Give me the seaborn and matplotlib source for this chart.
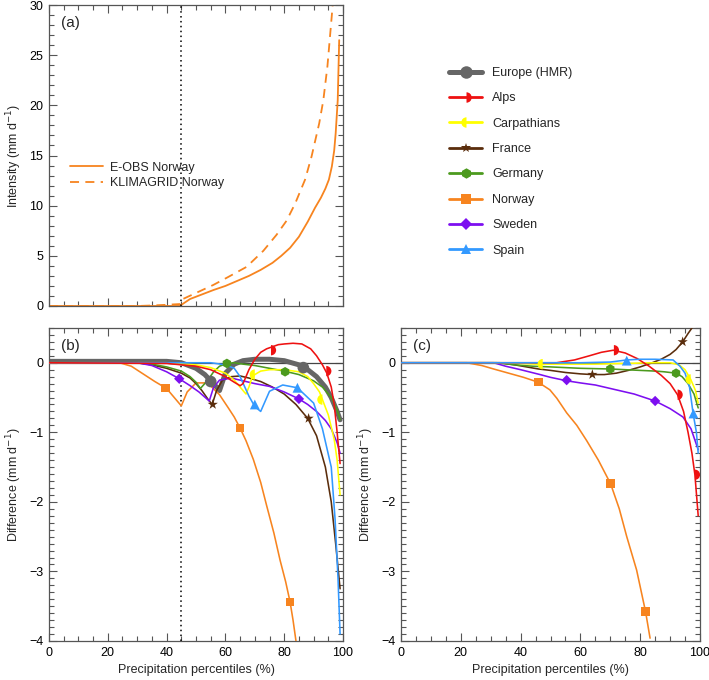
import numpy as np
import pandas as pd
import matplotlib
matplotlib.use("Agg")
import matplotlib.pyplot as plt
import seaborn as sns
from matplotlib.lines import Line2D
from matplotlib.markers import MarkerStyle
from matplotlib.ticker import MultipleLocator

# ---------------- data ----------------
# Panel (a): Norway intensity by percentile
a_eobs_x = [0, 44.8, 45.2, 48, 52, 56, 60, 64, 68, 72, 76, 79, 82, 85, 88, 90.5, 92.5, 94, 95.2, 96.2, 97, 97.5, 98.2, 98.7]
a_eobs_y = [0, 0, 0.15, 0.7, 1.15, 1.6, 2.0, 2.5, 3.0, 3.6, 4.3, 5.0, 5.8, 6.9, 8.4, 9.8, 10.8, 11.7, 12.6, 13.9, 15.5, 17.2, 20.5, 26.5]
a_klim_x = [0, 30, 35, 40, 44.8, 45.2, 50, 55.9, 61, 67.2, 72.9, 77.4, 80.8, 83.7, 87.1, 89.3, 91.9, 93.3, 94.7, 96.2, 96.6]
a_klim_y = [0, 0, 0.05, 0.12, 0.2, 0.65, 1.3, 2.1, 2.9, 3.9, 5.5, 7.1, 8.5, 10.2, 12.6, 14.9, 18.2, 20.5, 23.9, 29.0, 30.5]

regions = ["Europe (HMR)", "Alps", "Carpathians", "France", "Germany", "Norway", "Sweden", "Spain"]
colors = ["#666666", "#ee1111", "#ffff00", "#5a2d0c", "#4c9a1e", "#f7841f", "#7d0ff0", "#3399ff"]

# Panel (b)
b_x = {
    "Europe (HMR)": [0, 30, 40, 45, 50, 53, 55, 57, 58, 60, 63, 66, 70, 75, 80, 85, 88, 91, 94, 96, 98, 99],
    "Alps": [0, 40, 50, 55, 60, 63, 65, 66, 68, 70, 72, 74, 76, 78, 80, 83, 86, 89, 91, 93, 94.5, 96, 97, 98, 99],
    "Carpathians": [0, 40, 50, 55, 60, 63, 65, 67, 68, 69, 70, 72, 75, 80, 85, 88, 90, 92, 93, 95, 97, 98, 99],
    "France": [0, 30, 35, 40, 45, 48, 50, 52, 54, 55.5, 57, 59, 62, 65, 68, 72, 76, 80, 84, 88, 91, 94, 96, 97.5, 99],
    "Germany": [0, 30, 35, 40, 45, 48, 50, 51.5, 54, 56, 58, 60.5, 63, 66, 70, 75, 80, 85, 90, 93, 96, 98, 99],
    "Norway": [0, 20, 24, 28, 32, 36, 40, 43, 45, 47, 50, 54, 58, 61, 63, 65, 67, 69.5, 72, 74, 76.5, 78.6, 80.5, 82, 83, 84],
    "Sweden": [0, 30, 35, 40, 44.3, 48, 51, 54.5, 56, 58, 62, 65, 70, 75, 80, 85, 88, 91, 94, 96, 98, 99],
    "Spain": [0, 55, 60, 63, 65, 68, 70, 72, 75, 79.5, 84.5, 90, 93, 96, 97.3, 98.3, 99],
}
b_y = {
    "Europe (HMR)": [0.02, 0.02, 0.02, 0.0, -0.08, -0.17, -0.26, -0.35, -0.4, -0.15, -0.02, 0.03, 0.05, 0.05, 0.03, -0.03, -0.1, -0.2, -0.35, -0.5, -0.7, -0.82],
    "Alps": [0, -0.01, -0.05, -0.1, -0.2, -0.28, -0.33, -0.3, -0.1, 0.05, 0.15, 0.2, 0.23, 0.26, 0.27, 0.28, 0.27, 0.2, 0.1, -0.03, -0.15, -0.35, -0.6, -1.0, -1.45],
    "Carpathians": [0, 0, -0.03, -0.07, -0.15, -0.25, -0.35, -0.45, -0.35, -0.22, -0.17, -0.12, -0.1, -0.1, -0.13, -0.2, -0.3, -0.42, -0.53, -0.75, -1.1, -1.4, -1.9],
    "France": [0, 0, -0.03, -0.08, -0.15, -0.22, -0.3, -0.4, -0.52, -0.6, -0.4, -0.25, -0.2, -0.19, -0.22, -0.27, -0.35, -0.45, -0.6, -0.8, -1.05, -1.5, -2.0, -2.6, -3.25],
    "Germany": [0, 0, -0.02, -0.06, -0.12, -0.2, -0.28, -0.37, -0.25, -0.13, -0.05, -0.01, 0.0, -0.02, -0.04, -0.08, -0.12, -0.17, -0.26, -0.35, -0.5, -0.68, -0.82],
    "Norway": [0, 0, 0, -0.05, -0.16, -0.27, -0.37, -0.52, -0.62, -0.42, -0.29, -0.29, -0.46, -0.65, -0.78, -0.94, -1.12, -1.39, -1.72, -2.05, -2.45, -2.84, -3.15, -3.44, -3.7, -4.0],
    "Sweden": [0, 0, -0.04, -0.13, -0.23, -0.33, -0.42, -0.55, -0.35, -0.25, -0.22, -0.25, -0.3, -0.34, -0.42, -0.52, -0.6, -0.7, -0.83, -0.95, -1.15, -1.3],
    "Spain": [0, 0, -0.03, -0.08, -0.2, -0.48, -0.63, -0.7, -0.41, -0.32, -0.36, -0.58, -0.95, -1.5, -2.25, -3.1, -3.9],
}
b_mx = {
    "Europe (HMR)": [55, 86.5], "Alps": [75.5, 94.3], "Carpathians": [70, 93],
    "France": [55.7, 88.3], "Germany": [60.5, 80.3], "Norway": [39.7, 65, 82],
    "Sweden": [44.3, 85], "Spain": [70, 84.5],
}
b_my = {
    "Europe (HMR)": [-0.27, -0.07], "Alps": [0.18, -0.12], "Carpathians": [-0.17, -0.53],
    "France": [-0.6, -0.8], "Germany": [-0.01, -0.13], "Norway": [-0.36, -0.94, -3.44],
    "Sweden": [-0.23, -0.52], "Spain": [-0.6, -0.36],
}

# Panel (c)
c_x = {
    "Alps": [0, 52, 58, 63, 67, 71, 75, 79, 83, 87, 90, 92.5, 94.5, 96, 97.3, 98.3, 99.4],
    "Carpathians": [0, 35, 45, 47.4, 55, 65, 75, 85, 90, 93, 95, 96.9, 98.5, 99.4],
    "France": [0, 33, 38, 42, 46, 50, 55, 60, 64, 68, 72, 76, 80, 84, 87, 90, 92, 94.2, 96, 97.8],
    "Germany": [0, 32, 38, 44, 50, 55, 60, 65, 70.3, 75, 80, 85, 88, 92, 94, 96, 98, 99.4],
    "Norway": [0, 22, 27, 31, 36, 41, 45.9, 49.8, 52.1, 55.4, 58.8, 62.1, 66, 70.1, 73, 75.5, 78.8, 81.8, 83.3],
    "Sweden": [0, 31, 35, 40, 46.5, 50, 55.5, 60, 65, 72, 78, 85, 90, 94.3, 97, 99.4],
    "Spain": [0, 60, 70, 75.5, 80, 85, 91, 93.3, 95, 96.5, 97.7, 98.8, 99.4],
}
c_y = {
    "Alps": [0, 0, 0.04, 0.1, 0.15, 0.18, 0.14, 0.06, -0.05, -0.18, -0.3, -0.46, -0.7, -1.0, -1.3, -1.61, -2.2],
    "Carpathians": [0, 0, -0.02, -0.02, -0.02, -0.02, -0.01, 0.0, 0.0, -0.03, -0.1, -0.24, -0.4, -0.58],
    "France": [0, 0, -0.03, -0.06, -0.09, -0.11, -0.14, -0.16, -0.17, -0.17, -0.15, -0.11, -0.06, 0.0, 0.05, 0.12, 0.19, 0.3, 0.42, 0.53],
    "Germany": [0, 0, -0.03, -0.05, -0.06, -0.07, -0.08, -0.085, -0.09, -0.1, -0.11, -0.12, -0.13, -0.15, -0.2, -0.3, -0.45, -0.65],
    "Norway": [0, 0, -0.04, -0.09, -0.15, -0.21, -0.28, -0.39, -0.51, -0.72, -0.9, -1.12, -1.4, -1.74, -2.1, -2.5, -2.98, -3.58, -3.96],
    "Sweden": [0, 0, -0.05, -0.1, -0.17, -0.21, -0.26, -0.29, -0.32, -0.39, -0.45, -0.55, -0.66, -0.78, -0.95, -1.25],
    "Spain": [0, 0, 0.01, 0.04, 0.05, 0.05, 0.04, -0.05, -0.15, -0.35, -0.73, -1.0, -1.3],
}
c_mx = {
    "Alps": [71.2, 92.5, 98.3], "Carpathians": [47.4, 96.9], "France": [64, 94.2],
    "Germany": [70, 92], "Norway": [45.9, 70.1, 81.8], "Sweden": [55.4, 85], "Spain": [75.5, 97.8],
}
c_my = {
    "Alps": [0.18, -0.46, -1.61], "Carpathians": [-0.02, -0.24], "France": [-0.17, 0.3],
    "Germany": [-0.09, -0.15], "Norway": [-0.28, -1.74, -3.58], "Sweden": [-0.25, -0.55], "Spain": [0.03, -0.73],
}

dry_threshold = 45

# ---------------- style ----------------
sns.set_style("ticks")
plt.rcParams["font.family"] = ["Liberation Sans", "DejaVu Sans"]
plt.rcParams["axes.edgecolor"] = "#555555"
plt.rcParams["xtick.color"] = "#555555"
plt.rcParams["ytick.color"] = "#555555"
plt.rcParams["xtick.labelcolor"] = "black"
plt.rcParams["ytick.labelcolor"] = "black"

marker_map = {
    "Europe (HMR)": MarkerStyle("o"),
    "Alps": MarkerStyle("o", fillstyle="right"),
    "Carpathians": MarkerStyle("o", fillstyle="left"),
    "France": MarkerStyle("*"),
    "Germany": MarkerStyle("h"),
    "Norway": MarkerStyle("s"),
    "Sweden": MarkerStyle("D"),
    "Spain": MarkerStyle("^"),
}
marker_size = {"Europe (HMR)": 70, "Alps": 55, "Carpathians": 55, "France": 60,
               "Germany": 48, "Norway": 38, "Sweden": 28, "Spain": 50}
col = dict(zip(regions, colors))

fig = plt.figure(figsize=(7.09, 6.8), dpi=100)
ax_a = fig.add_axes([0.0691, 0.550, 0.4147, 0.4426])
ax_b = fig.add_axes([0.0691, 0.0574, 0.4147, 0.4603])
ax_c = fig.add_axes([0.5656, 0.0574, 0.4217, 0.4603])

FS = 9

def style_axis(ax, ymaj, ymin):
    ax.set_xlim(0, 100)
    ax.xaxis.set_major_locator(MultipleLocator(20))
    ax.xaxis.set_minor_locator(MultipleLocator(5))
    ax.yaxis.set_major_locator(MultipleLocator(ymaj))
    ax.yaxis.set_minor_locator(MultipleLocator(ymin))
    ax.tick_params(which="both", direction="in", top=True, right=True, labelsize=FS)
    ax.tick_params(which="major", length=6, width=0.8, pad=4)
    ax.tick_params(which="minor", length=3.5, width=0.8)
    for s in ax.spines.values():
        s.set_linewidth(0.9)

# ---- panel (a)
orange = col["Norway"]
sns.lineplot(x=a_eobs_x, y=a_eobs_y, ax=ax_a, color=orange, lw=1.3, sort=False,
             label="E-OBS Norway")
sns.lineplot(x=a_klim_x, y=a_klim_y, ax=ax_a, color=orange, lw=1.3, sort=False,
             label="KLIMAGRID Norway")
ax_a.lines[-1].set_dashes([5, 3.5])
ax_a.axvline(dry_threshold, color="black", ls=(0, (1, 2.2)), lw=1.1)
ax_a.set_ylim(0, 30)
style_axis(ax_a, 5, 1)
ax_a.set_xticklabels([])
ax_a.set_xlabel("")
ax_a.set_ylabel("Intensity (mm d$^{-1}$)", fontsize=FS)
h, l = ax_a.get_legend_handles_labels()
h[1].set_dashes([5, 3.5])
ax_a.legend(h, l, loc="upper left", bbox_to_anchor=(0.07, 0.48), frameon=False,
            fontsize=FS, handlelength=2.7, handletextpad=0.5, labelspacing=0.3,
            borderpad=0, borderaxespad=0)
ax_a.text(0.04, 0.965, "(a)", transform=ax_a.transAxes, fontsize=11, va="top", ha="left")

# ---- panels (b) and (c)
def draw_panel(ax, xs, ys, mxs, mys, order, label):
    ax.axhline(0, color="#444444", lw=0.9, zorder=1)
    for r in order:
        lw = 3.6 if r == "Europe (HMR)" else 1.15
        df = pd.DataFrame({"x": xs[r], "y": ys[r]})
        sns.lineplot(data=df, x="x", y="y", ax=ax, color=col[r], lw=lw, sort=False,
                     zorder=3 if r != "Europe (HMR)" else 2.5)
        mdf = pd.DataFrame({"x": mxs[r], "y": mys[r]})
        sns.scatterplot(data=mdf, x="x", y="y", ax=ax, color=col[r], marker=marker_map[r],
                        s=marker_size[r], linewidth=0, edgecolor="none", zorder=4)
    ax.set_ylim(-4, 0.5)
    style_axis(ax, 1, 0.1)
    ax.set_xlabel("Precipitation percentiles (%)", fontsize=FS)
    ax.set_ylabel("Difference (mm d$^{-1}$)", fontsize=FS)
    ax.text(0.04, 0.965, label, transform=ax.transAxes, fontsize=11, va="top", ha="left")

order_b = ["Europe (HMR)", "Norway", "France", "Germany", "Sweden", "Carpathians", "Spain", "Alps"]
draw_panel(ax_b, b_x, b_y, b_mx, b_my, order_b, "(b)")
ax_b.axvline(dry_threshold, color="black", ls=(0, (1, 2.2)), lw=1.1, zorder=2)
order_c = ["Norway", "Sweden", "France", "Germany", "Carpathians", "Alps", "Spain"]
draw_panel(ax_c, c_x, c_y, c_mx, c_my, order_c, "(c)")
for ax in (ax_b, ax_c):
    ax.set_yticks([0, -1, -2, -3, -4])
    ax.set_yticklabels(["0", "\u22121", "\u22122", "\u22123", "\u22124"])
    ax.set_ylim(-4, 0.5)

# ---- region legend
handles = []
for r in regions:
    ms = marker_map[r]
    kw = dict(color=col[r], lw=3.6 if r == "Europe (HMR)" else 2.0,
              markersize=9 if r == "Europe (HMR)" else 7.5, markeredgewidth=0)
    if r == "Alps":
        hdl = Line2D([], [], marker="o", fillstyle="right", markerfacecoloralt="none", **kw)
    elif r == "Carpathians":
        hdl = Line2D([], [], marker="o", fillstyle="left", markerfacecoloralt="none", **kw)
    elif r == "Sweden":
        hdl = Line2D([], [], marker="D", markerfacecolor=col[r], **dict(kw, markersize=6))
    else:
        hdl = Line2D([], [], marker=ms.get_marker(), markerfacecolor=col[r], **kw)
    handles.append(hdl)
fig.legend(handles, regions, loc="upper left", bbox_to_anchor=(449 / 709, 1 - 67 / 680),
           frameon=False, fontsize=FS, handlelength=2.65, handletextpad=0.8,
           labelspacing=1.07, borderpad=0, borderaxespad=0)

fig.savefig("out.png", dpi=100)
